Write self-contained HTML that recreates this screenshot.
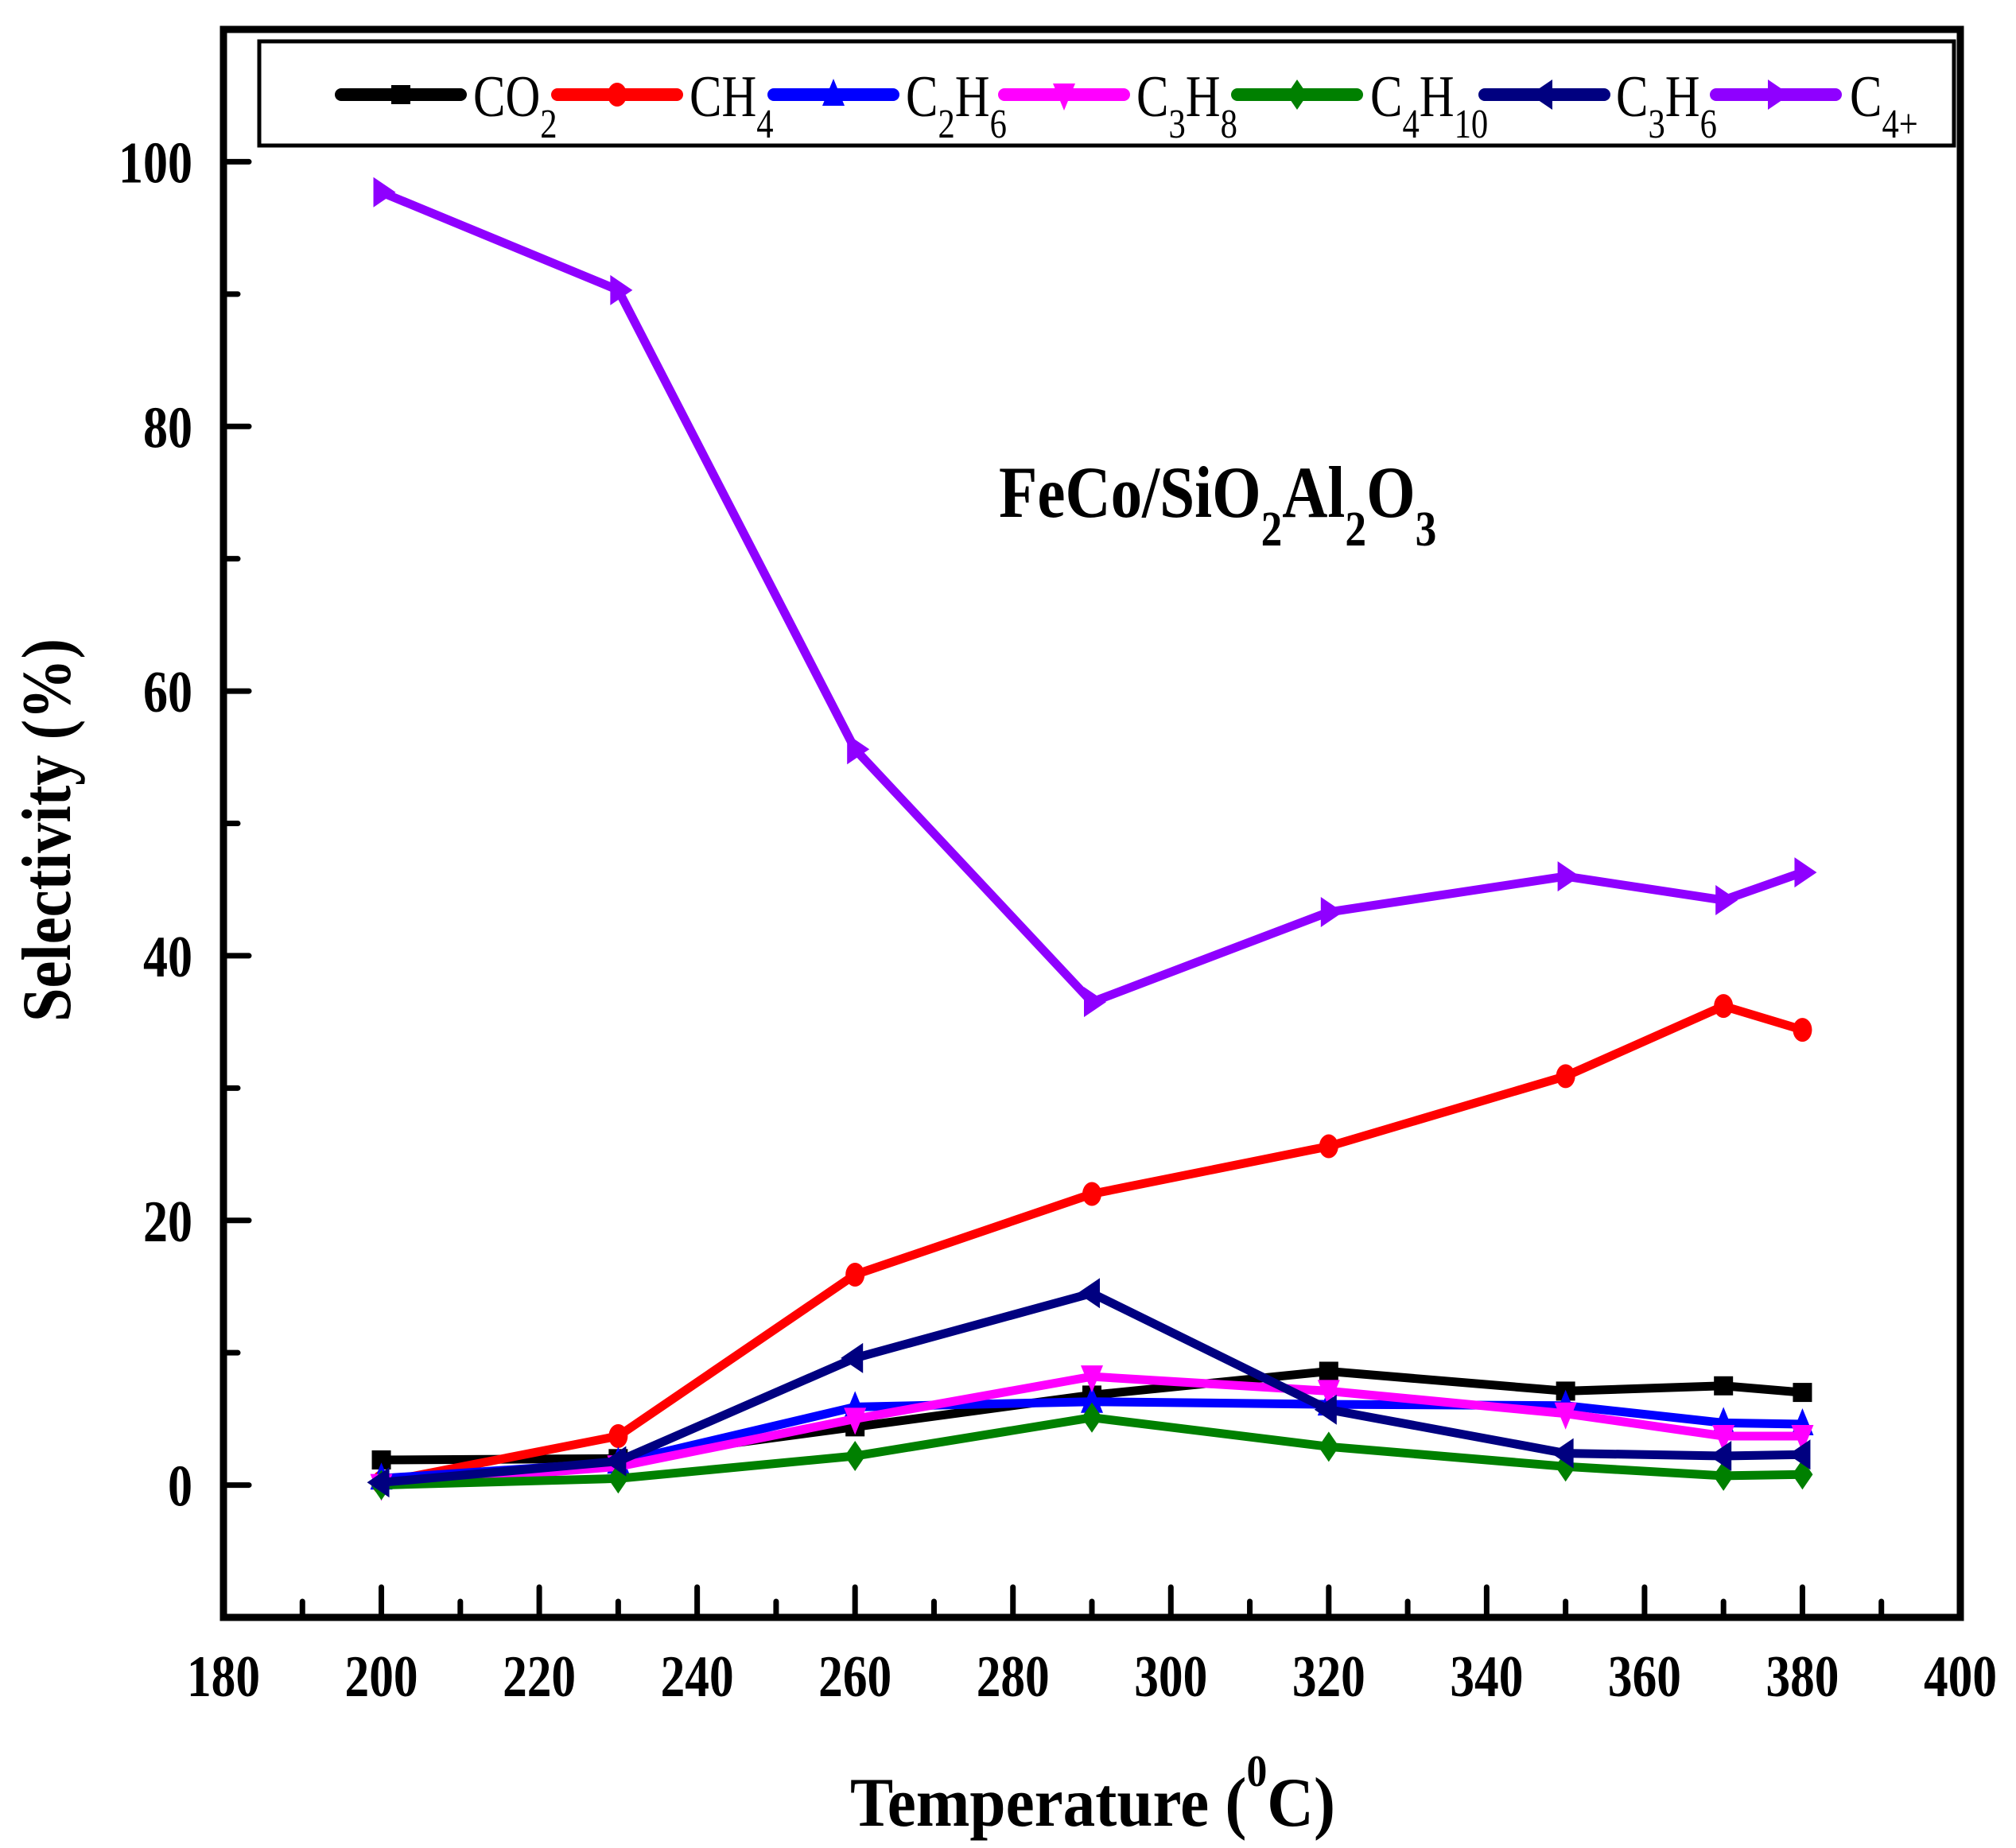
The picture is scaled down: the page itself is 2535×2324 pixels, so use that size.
<!DOCTYPE html>
<html><head><meta charset="utf-8"><style>
html,body{margin:0;padding:0;background:#fff;}
svg{display:block;font-family:"Liberation Serif",serif;}
</style></head><body>
<svg id="chart" width="2535" height="2324" viewBox="0 0 2535 2324" xmlns="http://www.w3.org/2000/svg">
<g id="plot"></g>
<g id="axes"></g>
<g id="legend">
<rect x="326" y="52" width="2131" height="131" fill="#fff" stroke="#000" stroke-width="5"/>
</g>
<g transform="translate(1256,650) scale(0.86,1)">
<text x="0" y="0" font-size="92" font-weight="bold">FeCo/SiO<tspan font-size="62" dy="36">2</tspan><tspan dy="-36">Al</tspan><tspan font-size="62" dy="36">2</tspan><tspan dy="-36">O</tspan><tspan font-size="62" dy="36">3</tspan></text>
</g>
<text x="1069" y="2296" font-size="88" font-weight="bold" textLength="610" lengthAdjust="spacingAndGlyphs">Temperature (<tspan font-size="56" dy="-50">0</tspan><tspan dy="50">C)</tspan></text>
<text transform="translate(88,1285) rotate(-90)" x="0" y="0" font-size="88" font-weight="bold" textLength="482" lengthAdjust="spacingAndGlyphs">Selectivity (%)</text>
</svg>
<script>
const temps = [200, 230, 260, 290, 320, 350, 370, 380];
const co2 = [1.9, 2.0, 4.4, 6.8, 8.6, 7.1, 7.5, 7.0];
const ch4 = [0.2, 3.7, 15.9, 22.0, 25.6, 30.9, 36.2, 34.4];
const c2h6 = [0.5, 1.7, 5.9, 6.3, 6.1, 6.0, 4.7, 4.6];
const c3h8 = [0.0, 1.4, 5.0, 8.2, 7.1, 5.4, 3.7, 3.7];
const c4h10 = [0.0, 0.5, 2.2, 5.1, 2.9, 1.4, 0.7, 0.8];
const c3h6 = [0.2, 1.8, 9.6, 14.5, 5.7, 2.4, 2.2, 2.3];
const c4plus = [97.7, 90.3, 55.6, 36.5, 43.3, 46.0, 44.2, 46.3];
const xTicks = [180, 200, 220, 240, 260, 280, 300, 320, 340, 360, 380, 400];
const yTicks = [0, 20, 40, 60, 80, 100];

const NS = "http://www.w3.org/2000/svg";
const L = 281, R = 2465, T = 37, B = 2034;
const xMin = 180, xMax = 400, yMin = -10, yMax = 110;
function xs(v){ return L + (v - xMin) / (xMax - xMin) * (R - L); }
function ys(v){ return B - (v - yMin) / (yMax - yMin) * (B - T); }
function mk(tag, attrs, parent){
  const e = document.createElementNS(NS, tag);
  for (const k in attrs) e.setAttribute(k, attrs[k]);
  parent.appendChild(e); return e;
}
const plot = document.getElementById('plot');
const axes = document.getElementById('axes');
const legend = document.getElementById('legend');

function marker(type, cx, cy, color, parent){
  const s = 14;
  let el;
  if (type === 'square') el = mk('rect', {x: cx-s+2, y: cy-s+2, width: 2*s-4, height: 2*s-4, fill: color}, parent);
  else if (type === 'circle') el = mk('ellipse', {cx: cx, cy: cy, rx: s-2, ry: s+1, fill: color}, parent);
  else {
    let p;
    if (type === 'up') p = [[cx, cy-s-6],[cx-s, cy+s],[cx+s, cy+s]];
    else if (type === 'down') p = [[cx, cy+s+6],[cx-s, cy-s],[cx+s, cy-s]];
    else if (type === 'diamond') p = [[cx, cy-s-5],[cx-s+1, cy],[cx, cy+s+5],[cx+s-1, cy]];
    else if (type === 'left') p = [[cx-s-4, cy],[cx+s-4, cy-s-5],[cx+s-4, cy+s+5]];
    else p = [[cx+s+4, cy],[cx-s+4, cy-s-5],[cx-s+4, cy+s+5]];
    el = mk('polygon', {points: p.map(q => q.join(',')).join(' '), fill: color}, parent);
  }
  return el;
}

const series = [
  {key:'co2', vals: co2, color:'#000000', m:'square', label:['CO','2'], lx:429, tx:595},
  {key:'ch4', vals: ch4, color:'#ff0000', m:'circle', label:['CH','4'], lx:701, tx:867},
  {key:'c2h6', vals: c2h6, color:'#0000ff', m:'up', label:['C','2','H','6'], lx:973, tx:1139},
  {key:'c3h8', vals: c3h8, color:'#ff00ff', m:'down', label:['C','3','H','8'], lx:1263, tx:1429},
  {key:'c4h10', vals: c4h10, color:'#008000', m:'diamond', label:['C','4','H','10'], lx:1556, tx:1723},
  {key:'c3h6', vals: c3h6, color:'#000080', m:'left', label:['C','3','H','6'], lx:1867, tx:2032},
  {key:'c4plus', vals: c4plus, color:'#8f00ff', m:'right', label:['C','4+'], lx:2158, tx:2326}
];

series.forEach(s => {
  const g = mk('g', {}, plot);
  
  
  const pts = temps.map((t,i) => xs(t).toFixed(1) + ',' + ys(s.vals[i]).toFixed(1)).join(' ');
  const line = mk('polyline', {points: pts, fill:'none', stroke: s.color, 'stroke-width': 11, 'stroke-linejoin':'miter'}, g);
  
  
  temps.forEach((t,i) => {
    const m = marker(s.m, xs(t), ys(s.vals[i]), s.color, g);
    
    
  });
  const lg = mk('g', {}, legend);
  
  
  mk('line', {x1: s.lx, y1: 119, x2: s.lx+150, y2: 119, stroke: s.color, 'stroke-width': 16, 'stroke-linecap':'round'}, lg);
  marker(s.m, s.lx+75, 119, s.color, lg);
  const tg = mk('g', {transform: 'translate(' + s.tx + ',146) scale(0.82,1)'}, lg);
  const tx = mk('text', {x: 0, y: 0, 'font-size': 74}, tg);
  
  
  s.label.forEach((part, j) => {
    const ts = mk('tspan', {}, tx);
    if (j % 2 === 1) { ts.setAttribute('font-size', 52); ts.setAttribute('dy', 27); }
    else if (j > 0) { ts.setAttribute('dy', -27); }
    ts.textContent = part;
  });
});

const frame = mk('rect', {x: L, y: T, width: R-L, height: B-T, fill:'none', stroke:'#000', 'stroke-width': 9}, axes);


for (let v = 190; v <= 390; v += 10) {
  const major = (v % 20 === 0);
  const t = mk('line', {x1: xs(v), y1: B, x2: xs(v), y2: B - (major ? 38 : 20), stroke:'#000', 'stroke-width': 7, 'stroke-linecap':'round'}, axes);
  
  
}
xTicks.forEach(v => {
  const t = mk('text', {x: xs(v) - 46, y: 2133, 'font-size': 74, 'font-weight':'bold', textLength: 92, lengthAdjust: 'spacingAndGlyphs'}, axes);
  
  
  t.textContent = v;
});
for (let v = -10; v <= 110; v += 10) {
  if (v === -10 || v === 110) continue;
  const major = (v % 20 === 0);
  const t = mk('line', {x1: L, y1: ys(v), x2: L + (major ? 32 : 18), y2: ys(v), stroke:'#000', 'stroke-width': 7, 'stroke-linecap':'round'}, axes);
  
  
}
yTicks.forEach(v => {
  const w = String(v).length * 31;
  const t = mk('text', {x: 242 - w, y: ys(v) + 26, 'font-size': 74, 'font-weight':'bold', textLength: w, lengthAdjust: 'spacingAndGlyphs'}, axes);
  
  
  t.textContent = v;
});
</script>
</body></html>
